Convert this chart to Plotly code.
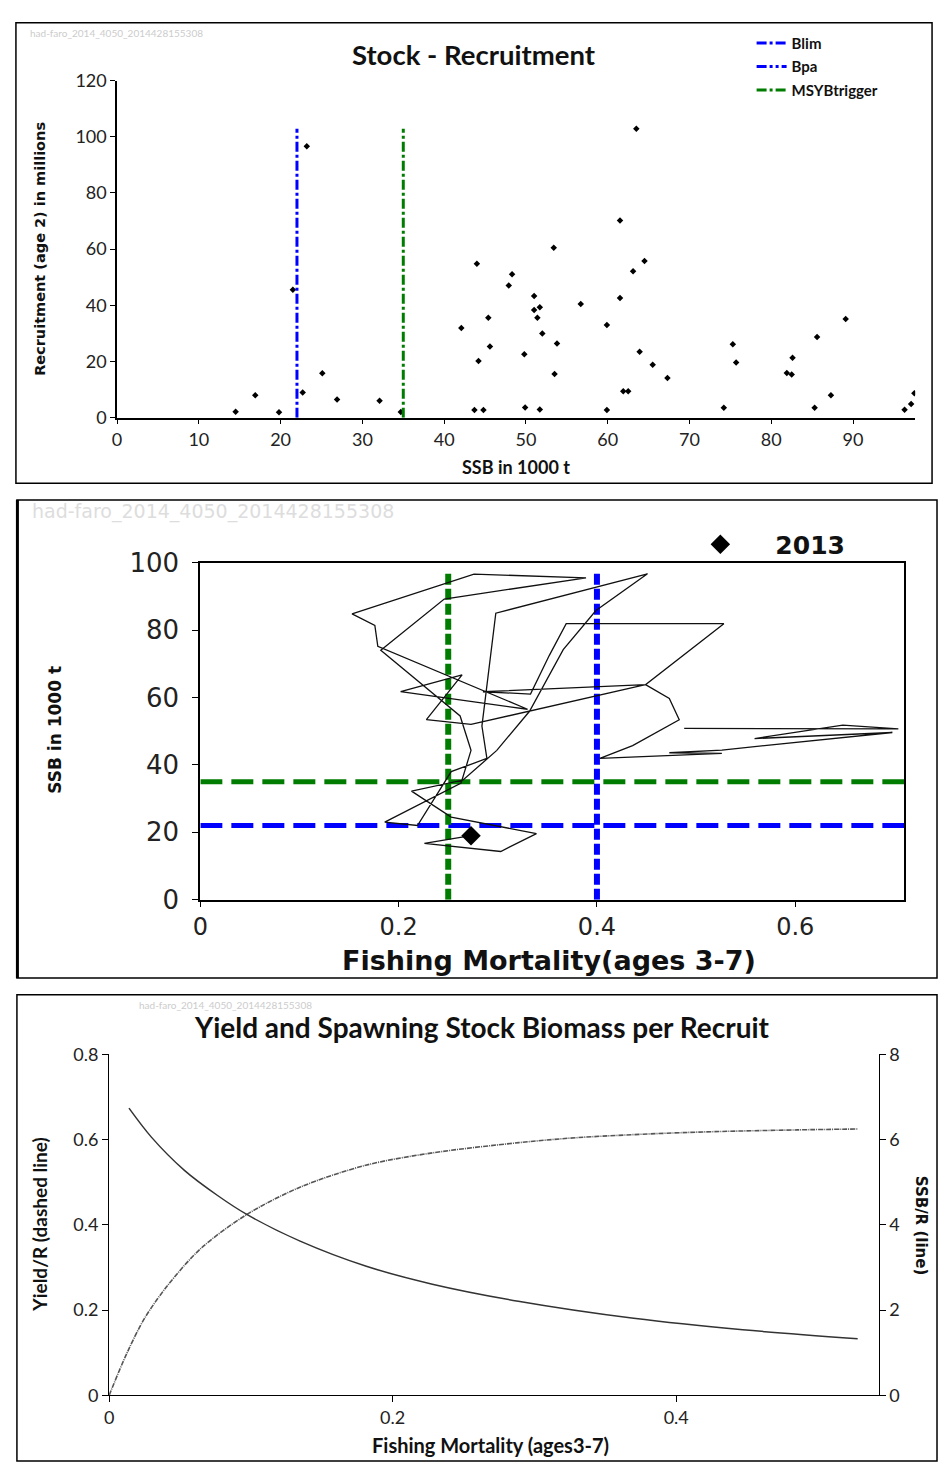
import plotly.graph_objects as go

W, H = 938, 1477

# ---------------- Panel 1: Stock - Recruitment ----------------
SSB_SR = [14.5, 16.9, 19.8, 21.5, 22.7, 23.2, 25.1, 26.9, 32.1, 34.7, 42.1, 43.7, 44.0, 44.2, 44.8,
          45.4, 45.6, 47.9, 48.3, 49.8, 49.9, 51.0, 51.0, 51.4, 51.7, 51.7, 52.0, 53.4, 53.5, 53.8,
          56.7, 59.9, 59.9, 61.5, 61.5, 61.9, 62.5, 63.1, 63.5, 63.9, 64.5, 65.5, 67.3, 74.2, 75.3,
          75.7, 81.9, 82.5, 82.6, 85.3, 85.6, 87.3, 89.1, 96.3, 97.1, 97.5]
RECRUIT = [2.1, 8.0, 1.9, 45.5, 9.0, 96.6, 15.8, 6.5, 6.0, 2.0, 31.9, 2.7, 54.8, 20.2, 2.7,
           35.6, 25.3, 47.1, 51.1, 22.6, 3.6, 43.3, 38.3, 35.6, 39.3, 2.9, 30.0, 60.5, 15.5, 26.4,
           40.5, 33.0, 2.7, 42.6, 70.2, 9.4, 9.4, 52.1, 102.9, 23.5, 55.8, 18.8, 14.1, 3.5, 26.1,
           19.6, 15.9, 15.4, 21.3, 3.5, 28.7, 8.0, 35.1, 2.8, 4.9, 8.7]
BLIM = 22
BPA = 35
MSYBTRIGGER = 35
SR_XTICKS = [0, 10, 20, 30, 40, 50, 60, 70, 80, 90]
SR_YTICKS = [0, 20, 40, 60, 80, 100, 120]

# ---------------- Panel 2: F vs SSB history ----------------
F_HIST = [0.488, 0.704, 0.648, 0.559, 0.698, 0.526, 0.473, 0.526, 0.403, 0.436, 0.483, 0.473, 0.449,
          0.528, 0.369, 0.352, 0.333, 0.285, 0.449, 0.273, 0.228, 0.264, 0.202, 0.330, 0.179, 0.176,
          0.153, 0.276, 0.389, 0.246, 0.182, 0.221, 0.262, 0.273, 0.263, 0.186, 0.219, 0.253, 0.289,
          0.284, 0.298, 0.451, 0.399, 0.366, 0.332, 0.299, 0.265, 0.213, 0.253, 0.339, 0.303, 0.226,
          0.273]
SSB_HIST = [50.8, 50.7, 51.8, 47.8, 49.6, 44.4, 43.6, 43.4, 41.9, 45.7, 53.4, 59.7, 63.8,
            81.9, 81.9, 72.5, 61.0, 61.7, 63.8, 52.0, 53.4, 66.7, 61.7, 56.5, 75.2, 81.4,
            84.8, 96.6, 95.5, 89.2, 74.0, 64.6, 54.5, 44.3, 34.6, 23.0, 22.0, 38.0, 41.9,
            51.5, 85.0, 96.7, 85.8, 74.2, 55.9, 44.3, 35.5, 32.2, 24.5, 19.6, 14.3, 16.7,
            19.0]
LAST_YEAR = "2013"
FLIM = 0.40
FMSY = 0.25
FS_XTICKS = [0, 0.2, 0.4, 0.6]
FS_XLABELS = ["0", "0.2", "0.4", "0.6"]
FS_YTICKS = [0, 20, 40, 60, 80, 100]
F_AXIS_MAX = 0.71

# ---------------- Panel 3: Yield and SSB per recruit ----------------
F_YPR = [0, 0.0124, 0.0252, 0.0415, 0.0648, 0.0974, 0.135, 0.181, 0.228, 0.289, 0.331, 0.408, 0.4855, 0.528]
YPR = [0, 0.098, 0.182, 0.259, 0.345, 0.425, 0.489, 0.540, 0.569, 0.593, 0.605, 0.617, 0.623, 0.625]
F_SPR = [0.014, 0.0298, 0.0531, 0.0765, 0.0974, 0.1347, 0.1814, 0.228, 0.2886, 0.370, 0.447, 0.528]
SPR = [6.74, 6.06, 5.28, 4.69, 4.24, 3.62, 3.03, 2.61, 2.21, 1.81, 1.54, 1.33]
YPR_XTICKS = [0, 0.2, 0.4]
YPR_XLABELS = ["0", "0.2", "0.4"]
YPR_YTICKS = [0, 0.2, 0.4, 0.6, 0.8]
YPR_YLABELS = ["0", "0.2", "0.4", "0.6", "0.8"]
SPR_YTICKS = [0, 2, 4, 6, 8]

WATERMARK = "had-faro_2014_4050_2014428155308"

NARROW = "Lato, sans-serif"
CAL = "Lato, sans-serif"
WIDE = "DejaVu Sans, Verdana, sans-serif"
BLUE = "#0000FF"
GREEN = "#007D00"


def px(x):
    return x / W


def py(y):
    return 1 - y / H


fig = go.Figure()

# Panel 1 traces
fig.add_trace(go.Scatter(x=SSB_SR, y=RECRUIT, mode="markers", xaxis="x", yaxis="y",
                         marker=dict(symbol="diamond", size=5, color="black"), showlegend=False))
top_r = max(RECRUIT)
fig.add_trace(go.Scatter(x=[BLIM, BLIM], y=[0, top_r], mode="lines", xaxis="x", yaxis="y",
                         line=dict(color=BLUE, width=3, dash="10px,3px,3px,3px"), name="Blim",
                         legend="legend", legendgroup="a"))
fig.add_trace(go.Scatter(x=[None], y=[None], mode="lines", xaxis="x", yaxis="y",
                         line=dict(color=BLUE, width=3, dash="10px,3px,3px,3px,3px,3px"), name="Bpa",
                         legend="legend", legendgroup="b"))
fig.add_trace(go.Scatter(x=[MSYBTRIGGER, MSYBTRIGGER], y=[0, top_r], mode="lines", xaxis="x", yaxis="y",
                         line=dict(color=GREEN, width=3, dash="10px,3px,3px,3px"), name="MSYBtrigger",
                         legend="legend", legendgroup="c"))

# Panel 2 traces
top_s = max(SSB_HIST)
fig.add_trace(go.Scatter(x=[0, F_AXIS_MAX], y=[MSYBTRIGGER, MSYBTRIGGER], mode="lines", xaxis="x2", yaxis="y2",
                         line=dict(color=GREEN, width=5, dash="22px,9px"), showlegend=False))
fig.add_trace(go.Scatter(x=[0, F_AXIS_MAX], y=[BLIM, BLIM], mode="lines", xaxis="x2", yaxis="y2",
                         line=dict(color=BLUE, width=5, dash="22px,9px"), showlegend=False))
fig.add_trace(go.Scatter(x=[FMSY, FMSY], y=[0, top_s], mode="lines", xaxis="x2", yaxis="y2",
                         line=dict(color=GREEN, width=6, dash="11px,4px"), showlegend=False))
fig.add_trace(go.Scatter(x=[FLIM, FLIM], y=[0, top_s], mode="lines", xaxis="x2", yaxis="y2",
                         line=dict(color=BLUE, width=6, dash="11px,4px"), showlegend=False))
fig.add_trace(go.Scatter(x=F_HIST, y=SSB_HIST, mode="lines", xaxis="x2", yaxis="y2",
                         line=dict(color="#111111", width=1.3), showlegend=False))
fig.add_trace(go.Scatter(x=[F_HIST[-1]], y=[SSB_HIST[-1]], mode="markers", xaxis="x2", yaxis="y2",
                         marker=dict(symbol="diamond", size=15, color="black"), name=LAST_YEAR,
                         legend="legend2"))

# Panel 3 traces
fig.add_trace(go.Scatter(x=F_YPR, y=YPR, mode="lines", xaxis="x3", yaxis="y3", line_shape="spline",
                         line=dict(color="#555555", width=1.6, dash="5px,1px,1px,1px", smoothing=0.9),
                         showlegend=False))
fig.add_trace(go.Scatter(x=F_SPR, y=SPR, mode="lines", xaxis="x3", yaxis="y4", line_shape="spline",
                         line=dict(color="#333333", width=1.5, smoothing=0.9), showlegend=False))

axis_common = dict(showgrid=False, zeroline=False, showline=True, linecolor="black",
                   ticks="outside", tickcolor="black")

fig.update_layout(
    width=W, height=H, margin=dict(l=0, r=0, t=0, b=0),
    paper_bgcolor="white", plot_bgcolor="white",
    xaxis=dict(**axis_common, domain=[px(110), px(915)], range=[0, 97.6], anchor="y",
               tickvals=SR_XTICKS, ticklen=5, linewidth=1.5,
               tickfont=dict(family=NARROW, size=18, color="#222")),
    yaxis=dict(**axis_common, domain=[py(411), py(67)], range=[0, 120], anchor="x",
               tickvals=SR_YTICKS, ticklen=5, linewidth=1.5,
               tickfont=dict(family=NARROW, size=18, color="#222")),
    xaxis2=dict(**axis_common, domain=[px(194), px(904)], range=[0, F_AXIS_MAX], anchor="y2",
                mirror=True, tickvals=FS_XTICKS, ticktext=FS_XLABELS, ticklen=5, linewidth=2,
                tickfont=dict(family=WIDE, size=24, color="#222")),
    yaxis2=dict(**axis_common, domain=[py(903), py(559)], range=[0, 100], anchor="x2",
                mirror=True, tickvals=FS_YTICKS, ticklen=6, linewidth=2, ticklabelstandoff=8,
                tickfont=dict(family=WIDE, size=26, color="#222")),
    xaxis3=dict(**axis_common, domain=[px(102), px(878)], range=[0, 0.5427], anchor="y3",
                tickvals=YPR_XTICKS, ticktext=YPR_XLABELS, ticklen=6, linewidth=1.2,
                tickfont=dict(family=NARROW, size=18, color="#222")),
    yaxis3=dict(**axis_common, domain=[py(1409), py(1061)], range=[0, 0.8], anchor="x3",
                tickvals=YPR_YTICKS, ticktext=YPR_YLABELS, ticklen=6, linewidth=1.2,
                tickfont=dict(family=NARROW, size=18, color="#222")),
    yaxis4=dict(**axis_common, range=[0, 8], anchor="x3", overlaying="y3", side="right",
                tickvals=SPR_YTICKS, ticklen=6, linewidth=1.2,
                tickfont=dict(family=NARROW, size=18, color="#222")),
    legend=dict(x=px(750), y=py(12), xanchor="left", yanchor="top", bgcolor="rgba(0,0,0,0)",
                font=dict(family=NARROW, size=15, color="#111", weight="bold"),
                tracegroupgap=1, itemwidth=30),
    legend2=dict(x=px(663), y=py(517), xanchor="left", yanchor="top", bgcolor="rgba(0,0,0,0)",
                 font=dict(family=WIDE, size=25, color="#111", weight="bold"), itemwidth=100),
)

ann = []


def text(t, x, y, size, family, bold=True, color="#111", angle=0, xanchor="center"):
    ann.append(dict(text=f"<b>{t}</b>" if bold else t, x=px(x), y=py(y), xref="paper", yref="paper",
                    showarrow=False, textangle=angle, xanchor=xanchor, yanchor="middle",
                    font=dict(family=family, size=size, color=color)))


# Panel 1
text(WATERMARK, 20, 18, 10, NARROW, bold=False, color="#cccccc", xanchor="left")
text("Stock - Recruitment", 470, 40, 27.5, CAL)
text("Recruitment (age 2) in millions", 32, 239, 14.5, WIDE, angle=-90)
text("SSB in 1000 t", 512, 461, 18, NARROW)
# Panel 2
text(WATERMARK, 22, 507, 19, WIDE, bold=False, color="#dddddd", xanchor="left")
text("SSB in 1000 t", 48, 730, 17, WIDE, angle=-90)
text("Fishing Mortality(ages 3-7)", 546, 965, 27, WIDE)
# Panel 3
text(WATERMARK, 130, 1011, 10, NARROW, bold=False, color="#cccccc", xanchor="left")
text("Yield and Spawning Stock Biomass per Recruit", 478, 1033, 28, CAL)
text("Yield/R (dashed line)", 32, 1235, 19, CAL, angle=-90)
text("SSB/R (line)", 921, 1235, 15, WIDE, angle=90)
text("Fishing Mortality (ages3-7)", 487, 1460, 20, CAL)

shapes = [
    dict(type="rect", xref="paper", yref="paper", x0=px(8), x1=px(932), y0=py(478), y1=py(8),
         line=dict(color="black", width=1.5)),
    dict(type="rect", xref="paper", yref="paper", x0=px(9), x1=px(937), y0=py(983), y1=py(495),
         line=dict(color="black", width=1.5)),
    dict(type="line", xref="paper", yref="paper", x0=px(9.5), x1=px(9.5), y0=py(983), y1=py(495),
         line=dict(color="black", width=3)),
    dict(type="rect", xref="paper", yref="paper", x0=px(9), x1=px(937), y0=py(1476), y1=py(1000),
         line=dict(color="black", width=1.5)),
]

fig.update_layout(annotations=ann, shapes=shapes)
fig.write_html("out.html",
               post_script="document.body.style.margin='0px';document.body.style.overflow='hidden';")
